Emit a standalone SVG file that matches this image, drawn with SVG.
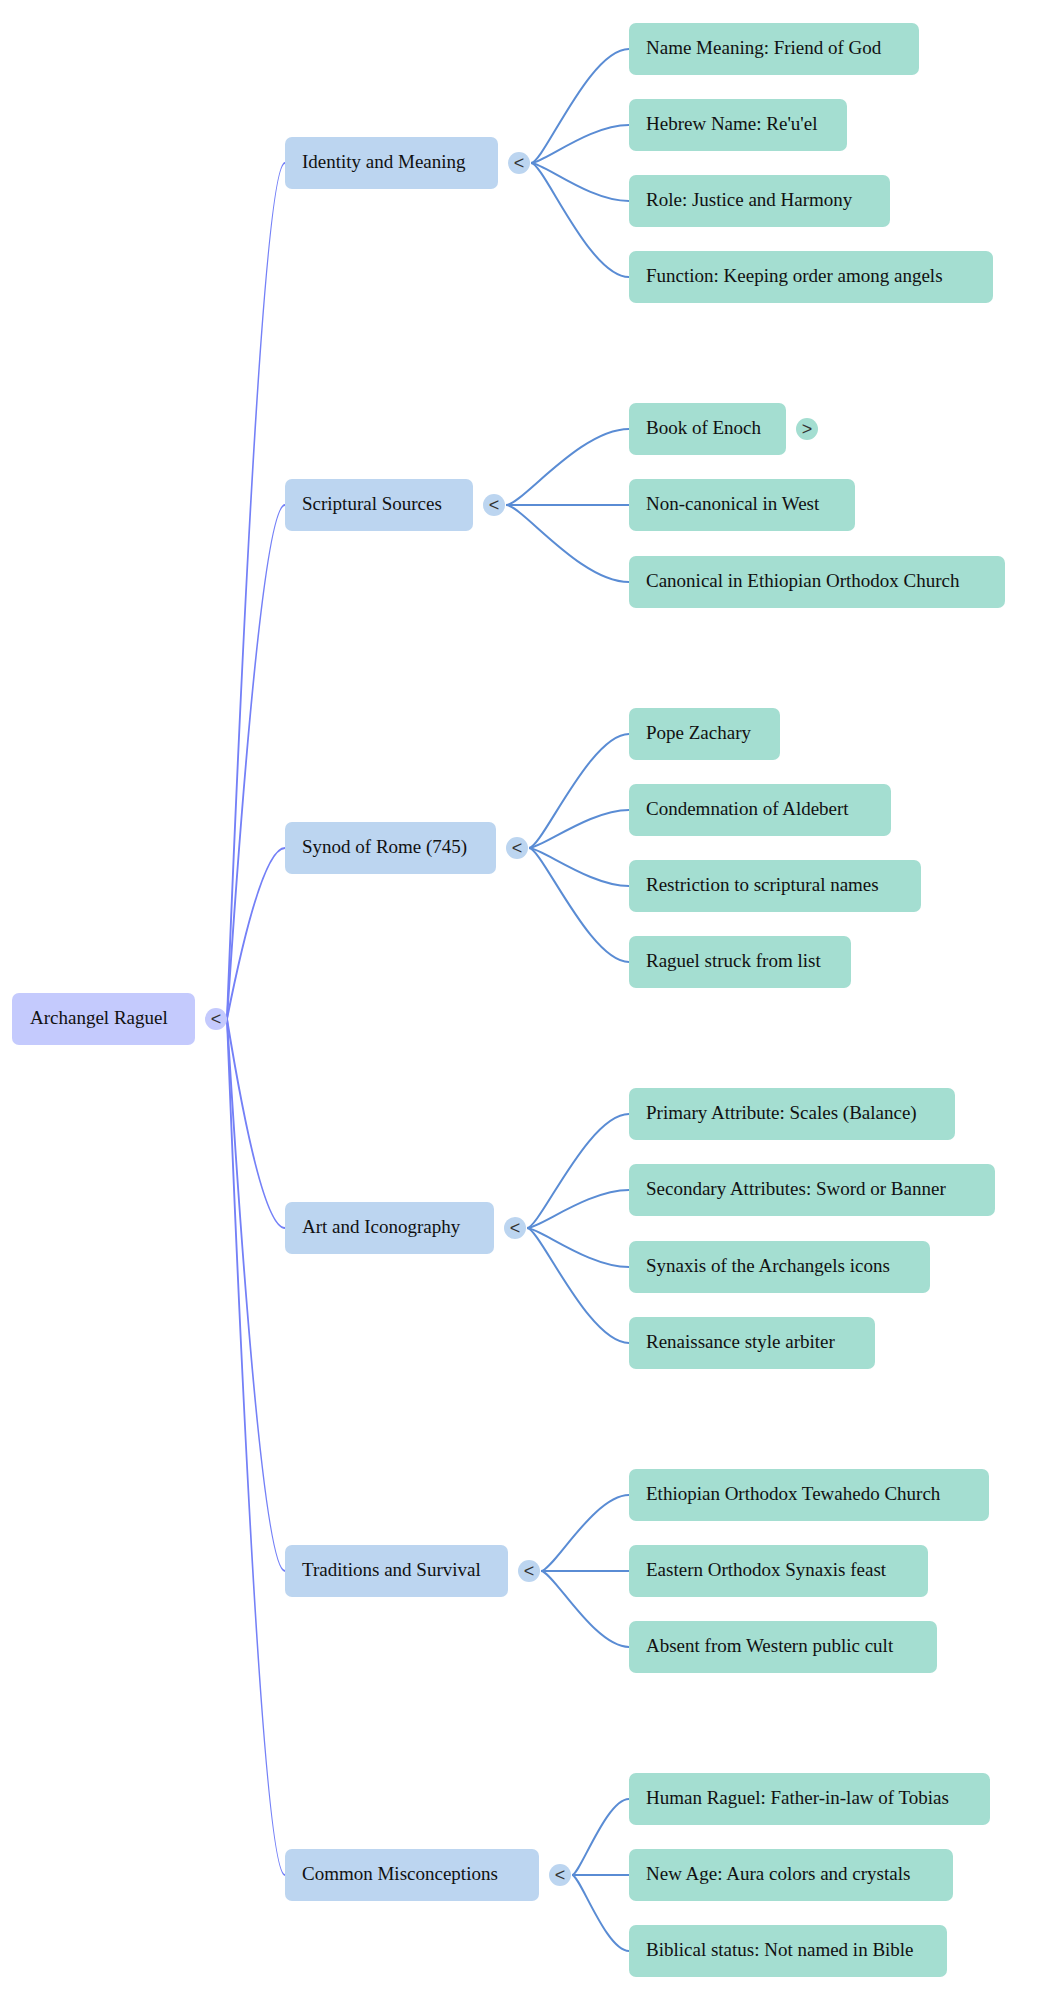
<svg xmlns="http://www.w3.org/2000/svg" width="1049" height="2000" viewBox="0 0 1049 2000">
<style>
text{font-family:"Liberation Serif","Times New Roman",serif;font-size:19px;fill:#111}
.root rect{fill:#c4cafd}
.l1 rect{fill:#bcd5f0}
.l2 rect{fill:#a4ded1}
.tg{font-family:"Liberation Sans",Arial,sans-serif;font-size:18px;text-anchor:middle;fill:#333}
.rl{fill:none;stroke:#7480f7;stroke-width:1.9}
.bl{fill:none;stroke:#5a8cd4;stroke-width:2}
</style>
<rect width="1049" height="2000" fill="#ffffff"/>
<g id="connectors">
<path class="rl" d="M227 1019 Q261 163 285 163"/>
<path class="rl" d="M227 1019 Q261 505 285 505"/>
<path class="rl" d="M227 1019 Q261 848 285 848"/>
<path class="rl" d="M227 1019 Q261 1228 285 1228"/>
<path class="rl" d="M227 1019 Q261 1571 285 1571"/>
<path class="rl" d="M227 1019 Q261 1875 285 1875"/>
<path class="bl" d="M531 163 C544 163 589 49 629 49"/>
<path class="bl" d="M531 163 C544 163 589 125 629 125"/>
<path class="bl" d="M531 163 C544 163 589 201 629 201"/>
<path class="bl" d="M531 163 C544 163 589 277 629 277"/>
<path class="bl" d="M506 505 C522 505 580 429 629 429"/>
<path class="bl" d="M506 505 L629 505"/>
<path class="bl" d="M506 505 C522 505 580 582 629 582"/>
<path class="bl" d="M529 848 C542 848 590 734 629 734"/>
<path class="bl" d="M529 848 C542 848 590 810 629 810"/>
<path class="bl" d="M529 848 C542 848 590 886 629 886"/>
<path class="bl" d="M529 848 C542 848 590 962 629 962"/>
<path class="bl" d="M527 1228 C540 1228 588 1114 629 1114"/>
<path class="bl" d="M527 1228 C540 1228 588 1190 629 1190"/>
<path class="bl" d="M527 1228 C540 1228 588 1267 629 1267"/>
<path class="bl" d="M527 1228 C540 1228 588 1343 629 1343"/>
<path class="bl" d="M541 1571 C553 1571 594 1495 629 1495"/>
<path class="bl" d="M541 1571 L629 1571"/>
<path class="bl" d="M541 1571 C553 1571 594 1647 629 1647"/>
<path class="bl" d="M572 1875 C580 1875 606 1799 629 1799"/>
<path class="bl" d="M572 1875 L629 1875"/>
<path class="bl" d="M572 1875 C580 1875 606 1951 629 1951"/>
</g>
<g id="root" class="root">
<rect x="12" y="993" width="183" height="52" rx="7"/>
<text x="30" y="1024">Archangel Raguel</text>
<circle cx="216" cy="1019" r="11" fill="#c4cafd"/>
<text class="tg" x="216" y="1025">&lt;</text>
</g>
<g id="identity" class="l1">
<rect x="285" y="137" width="213" height="52" rx="7"/>
<text x="302" y="168">Identity and Meaning</text>
<circle cx="519" cy="163" r="11" fill="#bcd5f0"/>
<text class="tg" x="519" y="169">&lt;</text>
</g>
<g id="scriptural" class="l1">
<rect x="285" y="479" width="188" height="52" rx="7"/>
<text x="302" y="510">Scriptural Sources</text>
<circle cx="494" cy="505" r="11" fill="#bcd5f0"/>
<text class="tg" x="494" y="511">&lt;</text>
</g>
<g id="synod" class="l1">
<rect x="285" y="822" width="211" height="52" rx="7"/>
<text x="302" y="853">Synod of Rome (745)</text>
<circle cx="517" cy="848" r="11" fill="#bcd5f0"/>
<text class="tg" x="517" y="854">&lt;</text>
</g>
<g id="art" class="l1">
<rect x="285" y="1202" width="209" height="52" rx="7"/>
<text x="302" y="1233">Art and Iconography</text>
<circle cx="515" cy="1228" r="11" fill="#bcd5f0"/>
<text class="tg" x="515" y="1234">&lt;</text>
</g>
<g id="traditions" class="l1">
<rect x="285" y="1545" width="223" height="52" rx="7"/>
<text x="302" y="1576">Traditions and Survival</text>
<circle cx="529" cy="1571" r="11" fill="#bcd5f0"/>
<text class="tg" x="529" y="1577">&lt;</text>
</g>
<g id="misconceptions" class="l1">
<rect x="285" y="1849" width="254" height="52" rx="7"/>
<text x="302" y="1880">Common Misconceptions</text>
<circle cx="560" cy="1875" r="11" fill="#bcd5f0"/>
<text class="tg" x="560" y="1881">&lt;</text>
</g>
<g id="n-name" class="l2"><rect x="629" y="23" width="290" height="52" rx="7"/><text x="646" y="54">Name Meaning: Friend of God</text></g>
<g id="n-hebrew" class="l2"><rect x="629" y="99" width="218" height="52" rx="7"/><text x="646" y="130">Hebrew Name: Re'u'el</text></g>
<g id="n-role" class="l2"><rect x="629" y="175" width="261" height="52" rx="7"/><text x="646" y="206">Role: Justice and Harmony</text></g>
<g id="n-function" class="l2"><rect x="629" y="251" width="364" height="52" rx="7"/><text x="646" y="282">Function: Keeping order among angels</text></g>
<g id="n-enoch" class="l2"><rect x="629" y="403" width="157" height="52" rx="7"/><text x="646" y="434">Book of Enoch</text>
<circle cx="807" cy="429" r="11" fill="#a4ded1"/><text class="tg" x="807" y="435">&gt;</text></g>
<g id="n-noncanon" class="l2"><rect x="629" y="479" width="226" height="52" rx="7"/><text x="646" y="510">Non-canonical in West</text></g>
<g id="n-canon" class="l2"><rect x="629" y="556" width="376" height="52" rx="7"/><text x="646" y="587">Canonical in Ethiopian Orthodox Church</text></g>
<g id="n-pope" class="l2"><rect x="629" y="708" width="151" height="52" rx="7"/><text x="646" y="739">Pope Zachary</text></g>
<g id="n-condemn" class="l2"><rect x="629" y="784" width="262" height="52" rx="7"/><text x="646" y="815">Condemnation of Aldebert</text></g>
<g id="n-restrict" class="l2"><rect x="629" y="860" width="292" height="52" rx="7"/><text x="646" y="891">Restriction to scriptural names</text></g>
<g id="n-struck" class="l2"><rect x="629" y="936" width="222" height="52" rx="7"/><text x="646" y="967">Raguel struck from list</text></g>
<g id="n-primary" class="l2"><rect x="629" y="1088" width="326" height="52" rx="7"/><text x="646" y="1119">Primary Attribute: Scales (Balance)</text></g>
<g id="n-secondary" class="l2"><rect x="629" y="1164" width="366" height="52" rx="7"/><text x="646" y="1195">Secondary Attributes: Sword or Banner</text></g>
<g id="n-synaxis" class="l2"><rect x="629" y="1241" width="301" height="52" rx="7"/><text x="646" y="1272">Synaxis of the Archangels icons</text></g>
<g id="n-renaissance" class="l2"><rect x="629" y="1317" width="246" height="52" rx="7"/><text x="646" y="1348">Renaissance style arbiter</text></g>
<g id="n-ethiopian" class="l2"><rect x="629" y="1469" width="360" height="52" rx="7"/><text x="646" y="1500">Ethiopian Orthodox Tewahedo Church</text></g>
<g id="n-eastern" class="l2"><rect x="629" y="1545" width="299" height="52" rx="7"/><text x="646" y="1576">Eastern Orthodox Synaxis feast</text></g>
<g id="n-absent" class="l2"><rect x="629" y="1621" width="308" height="52" rx="7"/><text x="646" y="1652">Absent from Western public cult</text></g>
<g id="n-human" class="l2"><rect x="629" y="1773" width="361" height="52" rx="7"/><text x="646" y="1804">Human Raguel: Father-in-law of Tobias</text></g>
<g id="n-newage" class="l2"><rect x="629" y="1849" width="324" height="52" rx="7"/><text x="646" y="1880">New Age: Aura colors and crystals</text></g>
<g id="n-biblical" class="l2"><rect x="629" y="1925" width="318" height="52" rx="7"/><text x="646" y="1956">Biblical status: Not named in Bible</text></g>
</svg>
